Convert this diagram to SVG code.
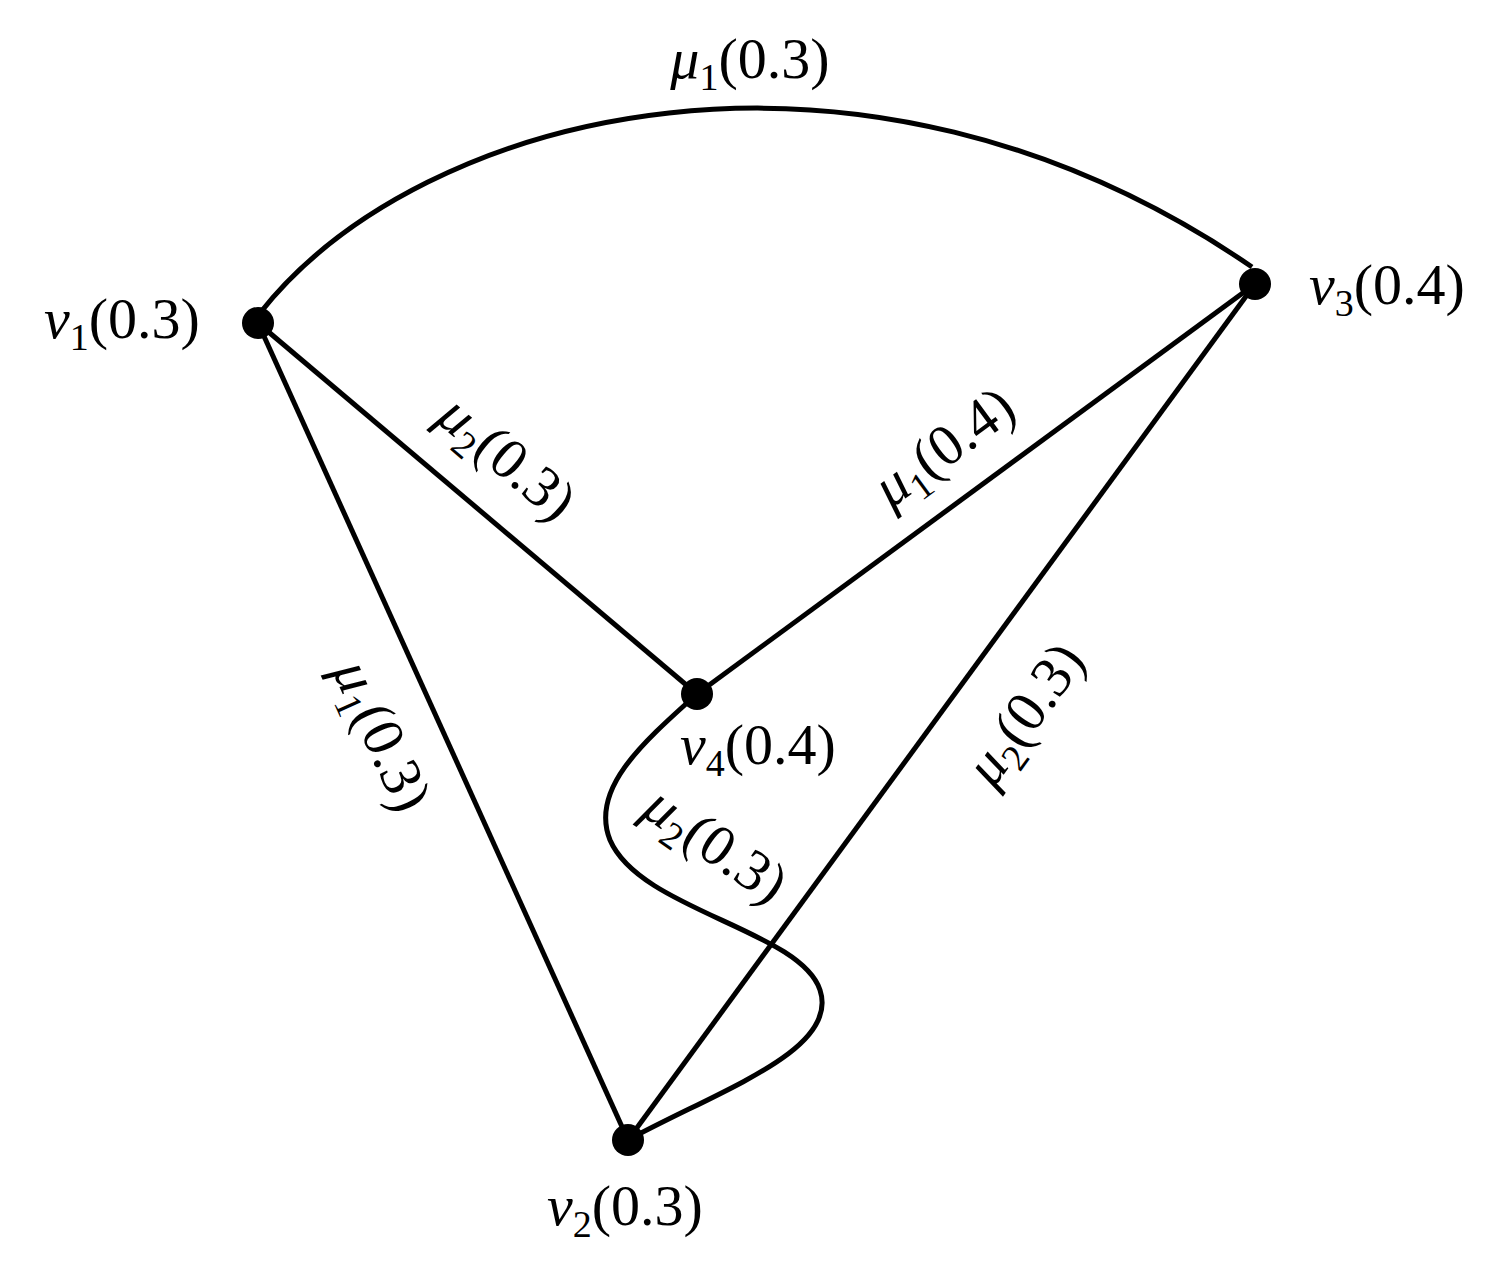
<svg xmlns="http://www.w3.org/2000/svg" width="1511" height="1272" viewBox="0 0 1511 1272">
<style>
.e{fill:none;stroke:#000;stroke-width:5}
.n{fill:#000}
text{font-family:"Liberation Serif","DejaVu Serif",serif;font-size:58px;fill:#000}
.i{font-style:italic}
.s{font-size:38px}
</style>
<rect width="1511" height="1272" fill="#fff"/>
<g id="connectors">
<path class="e" d="M260,313 C420,110 860,-2 1252,267"/>
<line class="e" x1="258" y1="323" x2="628" y2="1140"/>
<line class="e" x1="258" y1="323" x2="697" y2="694"/>
<line class="e" x1="697" y1="694" x2="1255" y2="284"/>
<line class="e" x1="1255" y1="284" x2="628" y2="1140"/>
<path class="e" d="M697,694 C640,745 590,790 610,840 C640,910 800,930 820,990 C840,1050 720,1090 628,1140"/>
</g>
<g id="v1"><circle class="n" cx="258" cy="323" r="16"/><text x="122" y="338" text-anchor="middle"><tspan class="i">v</tspan><tspan class="s" dy="12">1</tspan><tspan dy="-12">(0.3)</tspan></text></g>
<g id="v3"><circle class="n" cx="1255" cy="284" r="16"/><text x="1387" y="304" text-anchor="middle"><tspan class="i">v</tspan><tspan class="s" dy="12">3</tspan><tspan dy="-12">(0.4)</tspan></text></g>
<g id="v4"><circle class="n" cx="697" cy="694" r="16"/><text x="758" y="764" text-anchor="middle"><tspan class="i">v</tspan><tspan class="s" dy="12">4</tspan><tspan dy="-12">(0.4)</tspan></text></g>
<g id="v2"><circle class="n" cx="628" cy="1140" r="16"/><text x="625" y="1225" text-anchor="middle"><tspan class="i">v</tspan><tspan class="s" dy="12">2</tspan><tspan dy="-12">(0.3)</tspan></text></g>
<g id="labels">
<text x="750" y="78" text-anchor="middle"><tspan class="i">μ</tspan><tspan class="s" dy="12">1</tspan><tspan dy="-12">(0.3)</tspan></text>
<text transform="translate(495,472) rotate(40.2)" text-anchor="middle"><tspan class="i">μ</tspan><tspan class="s" dy="12">2</tspan><tspan dy="-12">(0.3)</tspan></text>
<text transform="translate(955,462) rotate(-36.3)" text-anchor="middle"><tspan class="i">μ</tspan><tspan class="s" dy="12">1</tspan><tspan dy="-12">(0.4)</tspan></text>
<text transform="translate(365,743) rotate(65.6)" text-anchor="middle"><tspan class="i">μ</tspan><tspan class="s" dy="12">1</tspan><tspan dy="-12">(0.3)</tspan></text>
<text transform="translate(1040,725) rotate(-53.8)" text-anchor="middle"><tspan class="i">μ</tspan><tspan class="s" dy="12">2</tspan><tspan dy="-12">(0.3)</tspan></text>
<text transform="translate(705,860) rotate(35)" text-anchor="middle"><tspan class="i">μ</tspan><tspan class="s" dy="12">2</tspan><tspan dy="-12">(0.3)</tspan></text>
</g>
</svg>
